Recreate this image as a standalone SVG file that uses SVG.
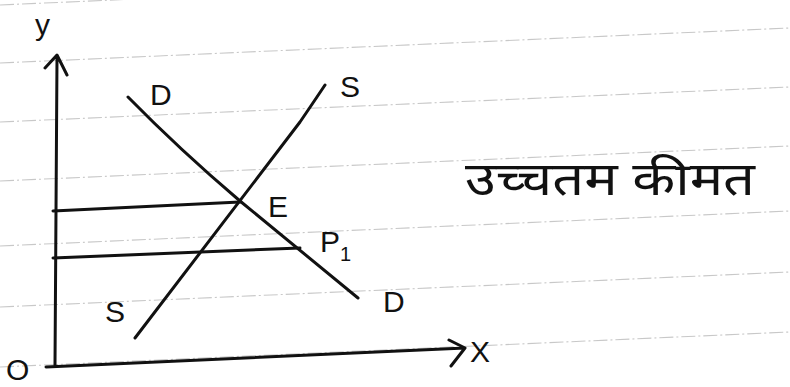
<svg xmlns="http://www.w3.org/2000/svg" width="790" height="387" viewBox="0 0 790 387">
<style>
.rule{stroke:#b0b0b0;stroke-width:1.1;stroke-dasharray:14 3 2 3;fill:none;opacity:0.7}
.ink{stroke:#111;stroke-width:3;fill:none;stroke-linecap:round;stroke-linejoin:round}
.lbl{font-family:"Liberation Sans","DejaVu Sans",sans-serif;font-size:30px;fill:#111}
.hin{font-family:"Noto Sans","DejaVu Sans","Liberation Sans",sans-serif;font-size:46px;fill:#111}
</style>
<rect width="790" height="387" fill="#fff"/>
<g id="ruled-lines">
<line class="rule" x1="0" y1="5" x2="790" y2="-30"/>
<line class="rule" x1="0" y1="63" x2="790" y2="28"/>
<line class="rule" x1="0" y1="122" x2="790" y2="87"/>
<line class="rule" x1="0" y1="181" x2="790" y2="146"/>
<line class="rule" x1="0" y1="246" x2="790" y2="211"/>
<line class="rule" x1="0" y1="307" x2="790" y2="272"/>
<line class="rule" x1="0" y1="367" x2="790" y2="332"/>
</g>
<g id="connectors">
<path id="y-axis" class="ink" d="M55 365 L57 58 M45 68 L57 55 L67 75"/>
<path id="x-axis" class="ink" d="M46 367 L465 348 M449 340 L465 348 L451 366"/>
<path id="demand" class="ink" d="M128 97 Q180 150 240 201 L358 298"/>
<path id="supply" class="ink" d="M135 338 L300 122 Q315 100 325 85"/>
<path id="price-E" class="ink" d="M53 211 L240 202"/>
<path id="price-P1" class="ink" d="M53 258 L300 248"/>
</g>
<g id="label-y"><text class="lbl" x="35" y="35">y</text></g>
<g id="label-O"><text class="lbl" x="6" y="380" font-size="26">O</text></g>
<g id="label-X"><text class="lbl" x="470" y="362">X</text></g>
<g id="label-D-top"><text class="lbl" x="150" y="105">D</text></g>
<g id="label-S-top"><text class="lbl" x="340" y="97">S</text></g>
<g id="label-E"><text class="lbl" x="268" y="217">E</text></g>
<g id="label-P1"><text class="lbl" x="320" y="252">P<tspan font-size="20" dy="9">1</tspan></text></g>
<g id="label-D-bottom"><text class="lbl" x="383" y="312">D</text></g>
<g id="label-S-bottom"><text class="lbl" x="105" y="322">S</text></g>
<g id="title"><text class="hin" x="465" y="195" textLength="290" lengthAdjust="spacingAndGlyphs">उच्चतम कीमत</text></g>
</svg>
